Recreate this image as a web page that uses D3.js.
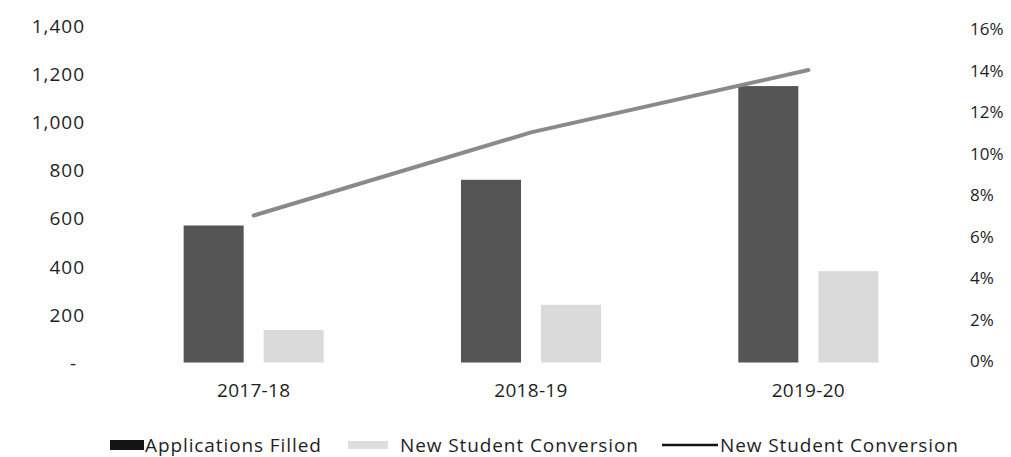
<!DOCTYPE html>
<html>
<head>
<meta charset="utf-8">
<script src="https://cdn.jsdelivr.net/npm/d3@7"></script>
<style>
  html, body { margin: 0; padding: 0; background: #fff; }
  svg { display: block; }
  text { font-family: "Open Sans", "Noto Sans", sans-serif; fill: #1e1e1e; }
</style>
</head>
<body>
<svg id="chart" width="1011" height="457"></svg>
<script>
// Academic years on the category axis
const years = ["2017-18", "2018-19", "2019-20"];
// Bar series (left axis, counts)
const applicationsFilled = [570, 760, 1150];
const newStudentConversion = [135, 240, 380];
// Line series (right axis, conversion rate in %)
const conversionRate = [7, 11, 14];
// Axis ticks
const leftTicks = [0, 200, 400, 600, 800, 1000, 1200, 1400];
const rightTicks = [0, 2, 4, 6, 8, 10, 12, 14, 16];
// Legend entries
const legendLabels = ["Applications Filled", "New Student Conversion", "New Student Conversion"];

const svg = d3.select("#chart");

const x0 = d3.scaleBand().domain(years).range([115, 947]).paddingInner(0.495).paddingOuter(0.2475);
const seriesKeys = ["apps", "conv"];
const x1 = d3.scaleBand().domain(seriesKeys).range([0, x0.bandwidth()]).paddingInner(0.25).paddingOuter(0);
const yLeft = d3.scaleLinear().domain([0, 1400]).range([362.5, 26]);
const yRight = d3.scaleLinear().domain([0, 16]).range([361, 28.5]);

const colors = { apps: "#555555", conv: "#dadada" };

// Left axis (accounting-style labels, zero shown as a dash)
const leftAxis = d3.axisLeft(yLeft).tickValues(leftTicks).tickSize(0).tickPadding(0)
  .tickFormat(d => d === 0 ? "-" : d3.format(",")(d));
const gL = svg.append("g").attr("transform", "translate(85,0)").call(leftAxis);
gL.select(".domain").remove();
gL.selectAll("text").style("font-size", "19px").style("letter-spacing", "1px").attr("dy", "0.35em");
gL.selectAll(".tick").filter(d => d === 0).select("text").attr("dx", "-8");

// Right axis
const rightAxis = d3.axisRight(yRight).tickValues(rightTicks).tickSize(0).tickPadding(0)
  .tickFormat(d => d + "%");
const gR = svg.append("g").attr("transform", "translate(970,0)").call(rightAxis);
gR.select(".domain").remove();
gR.selectAll("text").style("font-size", "17px").attr("dy", "0.35em");

// Category axis labels
const xAxis = d3.axisBottom(x0).tickSize(0).tickPadding(0);
const gX = svg.append("g").attr("transform", "translate(0,383)").call(xAxis);
gX.select(".domain").remove();
gX.selectAll("text").style("font-size", "19px").style("letter-spacing", "0.3px").attr("dy", "0.71em");

// Grouped bars
const rows = years.map((y, i) => ({ year: y, apps: applicationsFilled[i], conv: newStudentConversion[i] }));
const groups = svg.append("g").selectAll("g").data(rows).join("g")
  .attr("transform", d => `translate(${x0(d.year)},0)`);
groups.selectAll("rect")
  .data(d => seriesKeys.map(k => ({ key: k, value: d[k] })))
  .join("rect")
  .attr("x", d => x1(d.key))
  .attr("width", x1.bandwidth())
  .attr("y", d => yLeft(d.value))
  .attr("height", d => yLeft(0) - yLeft(d.value))
  .attr("fill", d => colors[d.key]);

// Conversion-rate line on the right axis
const line = d3.line()
  .x((d, i) => x0(years[i]) + x0.bandwidth() / 2)
  .y(d => yRight(d));
svg.append("path")
  .datum(conversionRate)
  .attr("d", line)
  .attr("fill", "none")
  .attr("stroke", "#8a8a8a")
  .attr("stroke-width", 4)
  .attr("stroke-linecap", "round");

// Legend
const legend = svg.append("g").attr("transform", "translate(0,445)");
const legendText = sel => sel.attr("dy", "0.35em").style("font-size", "19px").style("letter-spacing", "0.9px");
legend.append("rect").attr("x", 110).attr("y", -5).attr("width", 34).attr("height", 10).attr("fill", "#141414");
legend.append("text").attr("x", 145).call(legendText).text(legendLabels[0]);
legend.append("rect").attr("x", 348).attr("y", -4).attr("width", 40).attr("height", 8).attr("fill", "#dedede");
legend.append("text").attr("x", 400).call(legendText).text(legendLabels[1]);
legend.append("line").attr("x1", 662).attr("x2", 718).attr("y1", 0).attr("y2", 0)
  .attr("stroke", "#141414").attr("stroke-width", 2.5);
legend.append("text").attr("x", 720).call(legendText).text(legendLabels[2]);
</script>
</body>
</html>
